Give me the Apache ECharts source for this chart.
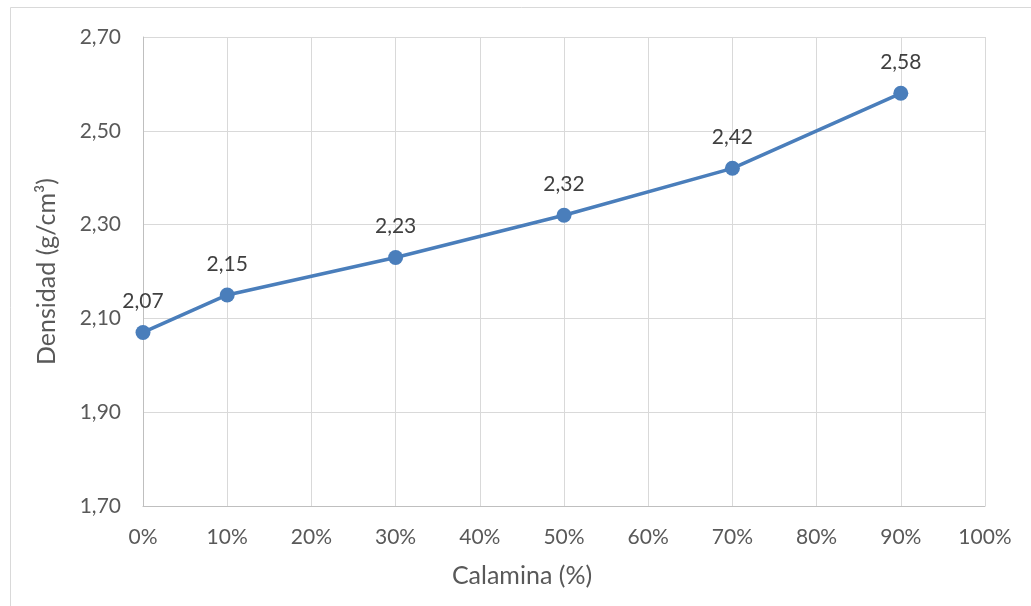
<!DOCTYPE html>
<html>
<head>
<meta charset="utf-8">
<script src="https://cdn.jsdelivr.net/npm/echarts@6/dist/echarts.min.js"></script>
<style>
  html, body { margin: 0; padding: 0; background: #fff; }
  #chart { width: 1031px; height: 606px; }
</style>
</head>
<body>
<div id="chart"></div>
<script>
// Calamina content (%) and measured density (g/cm³)
const calamina = [0, 10, 30, 50, 70, 90];
const densidad = [2.07, 2.15, 2.23, 2.32, 2.42, 2.58];

const xTicks = { min: 0, max: 100, step: 10 };
const yTicks = { min: 1.7, max: 2.7, step: 0.2 };

const FONT = 'Lato';
const comma = v => v.toFixed(2).replace('.', ',');

const chart = echarts.init(document.getElementById('chart'), null, { renderer: 'canvas' });

chart.setOption({
  backgroundColor: '#ffffff',
  animation: false,
  textStyle: { fontFamily: FONT },
  graphic: [{
    type: 'rect',
    shape: { x: 10.5, y: 7.5, width: 1100, height: 700 },
    style: { fill: 'none', stroke: '#d9d9d9', lineWidth: 1 },
    silent: true
  }],
  grid: { left: 143, right: 46, top: 37, bottom: 100, containLabel: false },
  xAxis: {
    type: 'value',
    min: xTicks.min,
    max: xTicks.max,
    interval: xTicks.step,
    name: 'Calamina (%)',
    nameLocation: 'middle',
    nameGap: 57,
    // title sits centred on the whole chart, a little left of the plot centre
    nameTextStyle: { fontFamily: FONT, fontSize: 25, color: '#595959', padding: [0, 84, 0, 0] },
    axisLine: { show: true, lineStyle: { color: '#bfbfbf', width: 1 } },
    axisTick: { show: false },
    axisLabel: {
      margin: 21,
      fontFamily: FONT, fontSize: 21, color: '#595959',
      formatter: v => v + '%'
    },
    splitLine: { show: true, lineStyle: { color: '#d9d9d9', width: 1 } }
  },
  yAxis: {
    type: 'value',
    min: yTicks.min,
    max: yTicks.max,
    interval: yTicks.step,
    name: 'Densidad (g/cm³)',
    nameLocation: 'middle',
    nameGap: 84,
    nameTextStyle: { fontFamily: FONT, fontSize: 25, color: '#595959' },
    axisLine: { show: true, lineStyle: { color: '#bfbfbf', width: 1 } },
    axisTick: { show: false },
    axisLabel: {
      margin: 22,
      fontFamily: FONT, fontSize: 21, color: '#595959',
      formatter: v => comma(v)
    },
    splitLine: { show: true, lineStyle: { color: '#d9d9d9', width: 1 } }
  },
  series: [{
    type: 'line',
    data: calamina.map((x, i) => [x, densidad[i]]),
    symbol: 'circle',
    symbolSize: 15,
    lineStyle: { color: '#4a7ebb', width: 3.5 },
    itemStyle: { color: '#4a7ebb' },
    label: {
      show: true,
      position: 'top',
      distance: 13,
      fontFamily: FONT, fontSize: 21, color: '#404040',
      formatter: p => comma(p.value[1])
    }
  }]
});
</script>
</body>
</html>
